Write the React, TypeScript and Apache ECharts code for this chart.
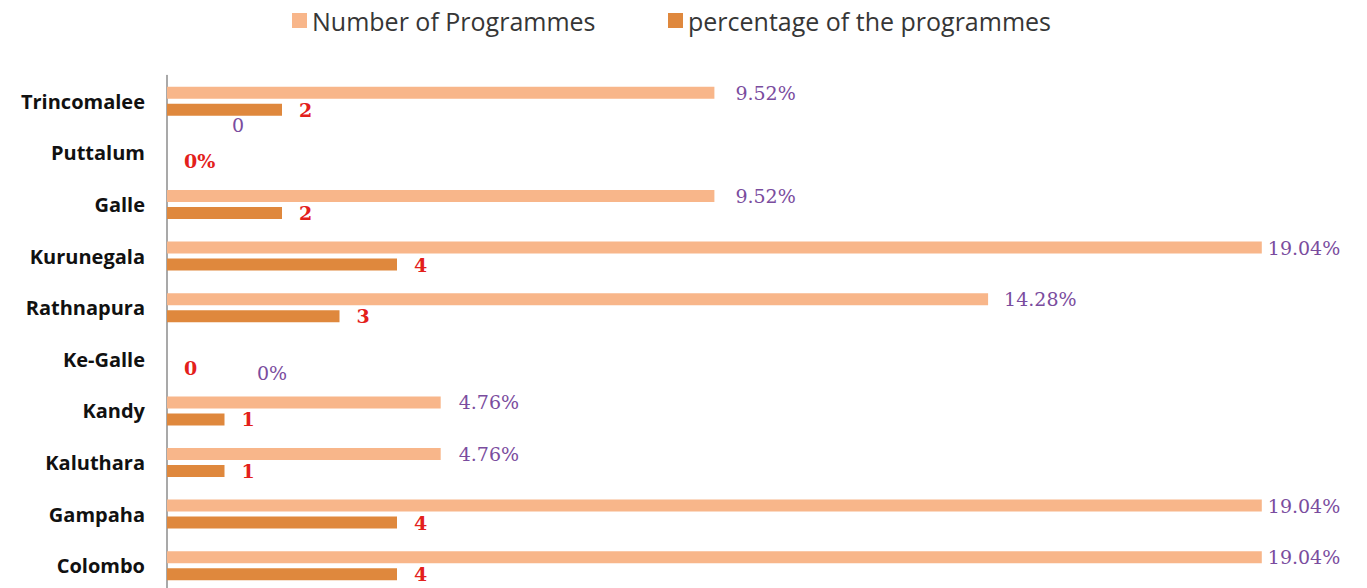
import React, { useEffect, useRef } from "react";
import * as echarts from "echarts";

// Categories listed bottom to top
const categories = [
  "Colombo",
  "Gampaha",
  "Kaluthara",
  "Kandy",
  "Ke-Galle",
  "Rathnapura",
  "Kurunegala",
  "Galle",
  "Puttalum",
  "Trincomalee",
];

// "Number of Programmes" series (light bars)
const programmeValues = [19.04, 19.04, 4.76, 4.76, 0, 14.28, 19.04, 9.52, 0, 9.52];
const programmeLabels = ["19.04%", "19.04%", "4.76%", "4.76%", "0%", "14.28%", "19.04%", "9.52%", "0", "9.52%"];

// "percentage of the programmes" series (dark bars)
const percentageValues = [4, 4, 1, 1, 0, 3, 4, 2, 0, 2];
const percentageLabels = ["4", "4", "1", "1", "0", "3", "4", "2", "0%", "2"];

const seriesNames = ["Number of Programmes", "percentage of the programmes"];

const LIGHT = "#F8B68A";
const DARK = "#DF883D";
const PURPLE = "#7A4C9E";
const RED = "#E3201B";

export default function App() {
  const ref = useRef<HTMLDivElement>(null);

  useEffect(() => {
    if (!ref.current) return;
    const chart = echarts.init(ref.current, null, { renderer: "svg" });

    const lightOffsets: Record<string, number[]> = {
      Puttalum: [47, -19],
      "Ke-Galle": [72, 22],
    };
    const lightDistances: Record<string, number> = {
      Colombo: 6,
      Gampaha: 6,
      Kurunegala: 6,
      Galle: 21,
      Trincomalee: 21,
      Rathnapura: 16,
    };

    const lightData = programmeValues.map((v, i) => {
      const cat = categories[i];
      return {
        value: v,
        label: {
          formatter: programmeLabels[i],
          offset: lightOffsets[cat] || [0, 0],
          distance: lightDistances[cat] ?? 18,
        },
      };
    });
    const darkData = percentageValues.map((v, i) => ({
      value: v,
      label: { formatter: percentageLabels[i] },
    }));

    const legendText = { fontFamily: "Open Sans", fontSize: 25, color: "#363636", padding: [0, 0, 0, 0] };

    const option: any = {
      animation: false,
      backgroundColor: "#ffffff",
      legend: [
        {
          left: 287,
          top: 3,
          itemWidth: 15,
          itemHeight: 15,
          icon: "rect",
          data: [seriesNames[0]],
          textStyle: legendText,
        },
        {
          left: 663,
          top: 3,
          itemWidth: 15,
          itemHeight: 15,
          icon: "rect",
          data: [seriesNames[1]],
          textStyle: legendText,
        },
      ],
      grid: { left: 167, right: 50, top: 75.5, height: 516 },
      xAxis: {
        type: "value",
        min: 0,
        max: 20,
        show: false,
        splitLine: { show: false },
      },
      yAxis: {
        type: "category",
        data: categories,
        axisLine: { show: true, lineStyle: { color: "#8c8c8c", width: 1.5 } },
        axisTick: { show: false },
        axisLabel: {
          margin: 22,
          fontFamily: "Open Sans",
          fontWeight: "bold",
          fontSize: 20,
          color: "#111111",
        },
      },
      series: [
        {
          name: seriesNames[0],
          type: "bar",
          data: lightData,
          barWidth: 12,
          barGap: "42%",
          itemStyle: { color: LIGHT },
          label: {
            show: true,
            position: "right",
            fontFamily: "DejaVu Serif",
            fontSize: 19,
            color: PURPLE,
          },
        },
        {
          name: seriesNames[1],
          type: "bar",
          data: darkData,
          barWidth: 12,
          barGap: "42%",
          itemStyle: { color: DARK },
          label: {
            show: true,
            position: "right",
            distance: 17,
            fontFamily: "DejaVu Serif",
            fontWeight: "bold",
            fontSize: 19,
            color: RED,
          },
        },
      ],
    };

    chart.setOption(option);
    return () => chart.dispose();
  }, []);

  return (
    <div
      style={{
        position: "fixed",
        left: 0,
        top: 0,
        width: 1367,
        height: 588,
        overflow: "hidden",
        background: "#ffffff",
      }}
    >
      <div ref={ref} style={{ width: 1367, height: 596 }} />
    </div>
  );
}
